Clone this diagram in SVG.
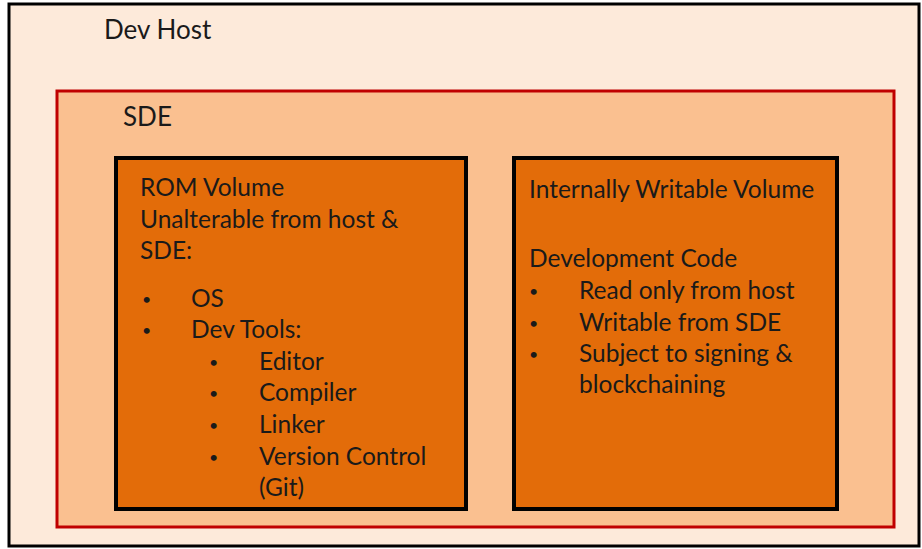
<svg xmlns="http://www.w3.org/2000/svg" width="922" height="549" viewBox="0 0 922 549">
<style>
text{font-family:"Lato","Open Sans","Liberation Sans",sans-serif;font-size:24.5px;fill:#1a1a1a}
.b{font-size:16px}
.vol{fill:#E36C09;stroke:#000;stroke-width:4}
</style>
<rect x="0" y="0" width="922" height="549" fill="#fff"/>
<g id="devhost">
<rect x="9" y="4" width="910" height="542" fill="#FDEADA" stroke="#000" stroke-width="3"/>
<text x="104" y="39" style="font-size:26px">Dev Host</text>
</g>
<g id="sde">
<rect x="57" y="91" width="837" height="436" fill="#FAC090" stroke="#C00000" stroke-width="3"/>
<text x="123" y="126" style="font-size:26px">SDE</text>
</g>
<g id="rom">
<rect class="vol" x="116" y="158" width="350" height="351"/>
<text x="140" y="196">ROM Volume</text>
<text x="140" y="228">Unalterable from host &amp;</text>
<text x="140" y="259">SDE:</text>
<text class="b" x="142" y="305">•</text><text x="191" y="307">OS</text>
<text class="b" x="142" y="336">•</text><text x="191" y="338">Dev Tools:</text>
<text class="b" x="209" y="368">•</text><text x="259" y="370">Editor</text>
<text class="b" x="209" y="399">•</text><text x="259" y="401">Compiler</text>
<text class="b" x="209" y="431">•</text><text x="259" y="433">Linker</text>
<text class="b" x="209" y="463">•</text><text x="259" y="465">Version Control</text>
<text x="259" y="496">(Git)</text>
</g>
<g id="iwv">
<rect class="vol" x="514" y="158" width="323" height="351"/>
<text x="529" y="198">Internally Writable Volume</text>
<text x="529" y="267">Development Code</text>
<text class="b" x="529" y="297">•</text><text x="579" y="299">Read only from host</text>
<text class="b" x="529" y="329">•</text><text x="579" y="331">Writable from SDE</text>
<text class="b" x="529" y="360">•</text><text x="579" y="362">Subject to signing &amp;</text>
<text x="579" y="393">blockchaining</text>
</g>
<g id="connectors"/>
</svg>
